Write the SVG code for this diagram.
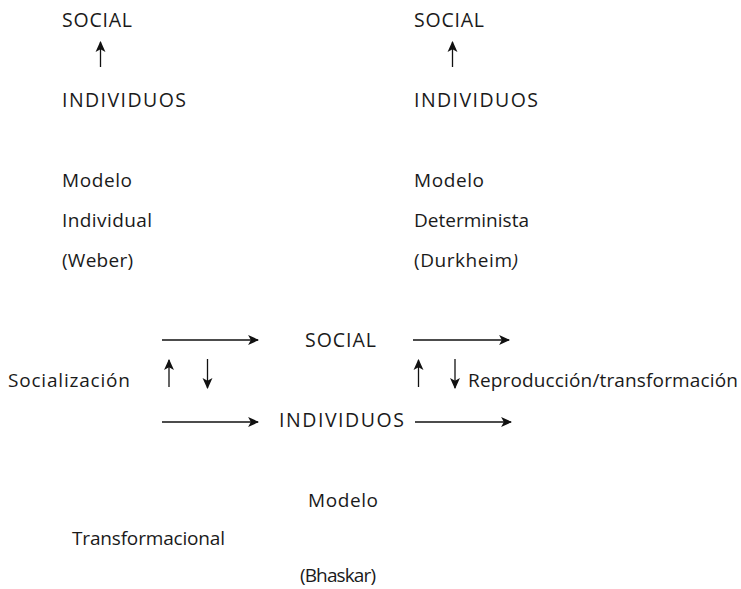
<svg xmlns="http://www.w3.org/2000/svg" width="741" height="589" viewBox="0 0 741 589">
<style>
text{font-family:"Open Sans","Lato","Liberation Sans",sans-serif;font-size:19px;fill:#1a1a1a}
text.k{font-size:19.5px}
.c{stroke:#111;stroke-width:1.3;fill:none;marker-end:url(#ah)}
</style>
<defs>
<marker id="ah" viewBox="0 0 10 10" refX="9" refY="5" markerWidth="11" markerHeight="11" markerUnits="userSpaceOnUse" orient="auto">
<path d="M0,0.5 L10,5 L0,9.5 L2.5,5 z" fill="#111"/>
</marker>
</defs>
<rect width="741" height="589" fill="#fff"/>
<g id="weber-social"><text class="k" x="62" y="27" textLength="70" lengthAdjust="spacing">SOCIAL</text></g>
<g id="weber-individuos"><text class="k" x="62" y="107" textLength="124" lengthAdjust="spacing">INDIVIDUOS</text></g>
<g id="weber-label"><text x="62" y="187" textLength="70" lengthAdjust="spacing">Modelo</text><text x="62" y="227" textLength="90" lengthAdjust="spacing">Individual</text><text x="62" y="267" textLength="71" lengthAdjust="spacing">(Weber)</text></g>
<g id="durkheim-social"><text class="k" x="414" y="27" textLength="70" lengthAdjust="spacing">SOCIAL</text></g>
<g id="durkheim-individuos"><text class="k" x="414" y="107" textLength="124" lengthAdjust="spacing">INDIVIDUOS</text></g>
<g id="durkheim-label"><text x="414" y="187" textLength="70" lengthAdjust="spacing">Modelo</text><text x="414" y="227" textLength="115" lengthAdjust="spacing">Determinista</text><text x="414" y="267" textLength="104" lengthAdjust="spacing">(Durkheim<tspan font-style="italic">)</tspan></text></g>
<g id="socializacion"><text x="8" y="387" textLength="122" lengthAdjust="spacing">Socialización</text></g>
<g id="bhaskar-social"><text class="k" x="305" y="347" textLength="71" lengthAdjust="spacing">SOCIAL</text></g>
<g id="bhaskar-individuos"><text class="k" x="279" y="427" textLength="125" lengthAdjust="spacing">INDIVIDUOS</text></g>
<g id="reproduccion"><text x="468" y="387" textLength="270" lengthAdjust="spacing">Reproducción/transformación</text></g>
<g id="bhaskar-label"><text x="308" y="507" textLength="70" lengthAdjust="spacing">Modelo</text><text x="72" y="545" textLength="153" lengthAdjust="spacing">Transformacional</text><text x="300" y="582" textLength="76" lengthAdjust="spacing">(Bhaskar)</text></g>
<g id="connectors">
<line class="c" x1="100.5" y1="67" x2="100.5" y2="42"/>
<line class="c" x1="452.5" y1="67" x2="452.5" y2="42"/>
<line class="c" x1="162" y1="340" x2="258" y2="340"/>
<line class="c" x1="162" y1="422" x2="258" y2="422"/>
<line class="c" x1="413" y1="340" x2="509" y2="340"/>
<line class="c" x1="415" y1="422" x2="511" y2="422"/>
<line class="c" x1="169" y1="387" x2="169" y2="360"/>
<line class="c" x1="207.5" y1="359" x2="207.5" y2="388"/>
<line class="c" x1="418.5" y1="387" x2="418.5" y2="360"/>
<line class="c" x1="455" y1="359" x2="455" y2="388"/>
</g>
</svg>
